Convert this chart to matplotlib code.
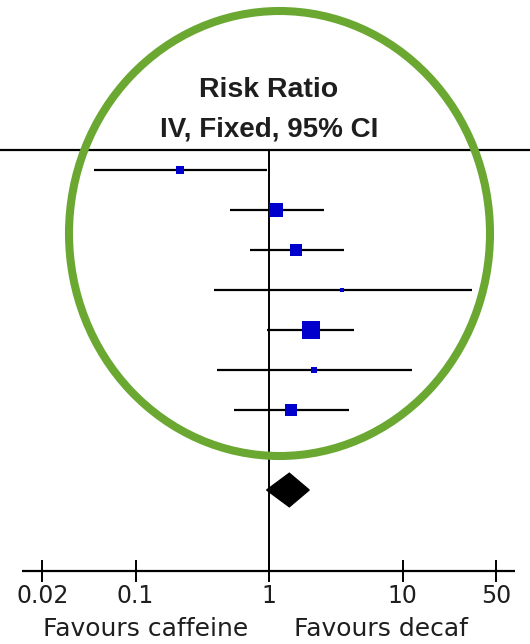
import matplotlib
matplotlib.use("Agg")
import matplotlib.pyplot as plt
import numpy as np
from matplotlib.patches import Ellipse, Polygon

# ---- data ----
study_rr = [0.215, 1.12, 1.58, 3.52, 2.05, 2.19, 1.45]
study_lo = [0.049, 0.51, 0.72, 0.39, 0.97, 0.41, 0.55]
study_hi = [0.96, 2.58, 3.65, 33.0, 4.33, 11.8, 3.99]
study_weight = [6.0, 20.8, 17.7, 2.0, 35.5, 3.1, 14.9]
pooled = [0.96, 1.42, 2.0]   # lo, est, hi
tick_values = [0.02, 0.1, 1, 10, 50]
tick_labels = ["0.02", "0.1", "1", "10", "50"]
title_lines = ["Risk Ratio", "IV, Fixed, 95% CI"]
favours = ["Favours caffeine", "Favours decaf"]

W, H = 530, 644
X1, PPD = 269, 133.5          # pixel of RR=1, pixels per decade
fig = plt.figure(figsize=(W / 100, H / 100), dpi=100)
ax = fig.add_axes([0, 0, 1, 1])
ax.set_xscale("log")
ax.set_xlim(10 ** (-X1 / PPD), 10 ** ((W - X1) / PPD))
# row units: pixel = 170 + 40*row
def row(py):
    return (py - 170) / 40
def xv(px):
    return 10 ** ((px - X1) / PPD)
ax.set_ylim(row(H), row(0))
for s in ax.spines.values():
    s.set_visible(False)
ax.set_xticks([])
ax.set_yticks([])

tfont = "Liberation Sans"
afont = "DejaVu Sans"
blue = "#0000CC"
tcol = "#1e1e1e"

# top separator line
ax.axhline(-0.5, color="black", lw=1.6)
# axis line & line of no effect
axis_row = row(571)
ax.plot([1, 1], [-0.5, axis_row], color="black", lw=1.4, solid_capstyle="butt")
ax.plot([xv(22), xv(515)], [axis_row, axis_row],
        color="black", lw=1.6, solid_capstyle="butt")
for tv, tl in zip(tick_values, tick_labels):
    ax.plot([tv, tv], [axis_row - 0.24, axis_row + 0.24], color="black", lw=1.4)
    ax.text(tv, row(596), tl, ha="center", va="center", fontsize=17,
            family=afont, color=tcol)

# studies
k = 3.0 * 0.72  # px per sqrt(weight) -> points
for i, (rr, lo, hi, w) in enumerate(zip(study_rr, study_lo, study_hi, study_weight)):
    ax.plot([lo, hi], [i, i], color="black", lw=1.6, solid_capstyle="butt", zorder=2)
    ax.plot([rr], [i], marker="s", ms=k * np.sqrt(w), color=blue,
            markeredgewidth=0, zorder=3)

# pooled diamond
dr = 8
ax.add_patch(Polygon([[pooled[0], dr], [pooled[1], dr - 0.42],
                      [pooled[2], dr], [pooled[1], dr + 0.42]],
                     closed=True, facecolor="black", edgecolor="black", lw=1, zorder=3))

# titles
ax.text(1, row(90), title_lines[0], ha="center", va="center", fontsize=20.5,
        fontweight="bold", family=tfont, color=tcol)
ax.text(1, row(129), title_lines[1], ha="center", va="center", fontsize=20,
        fontweight="bold", family=tfont, color=tcol)

# favours labels
ax.text(xv(146), row(629), favours[0], ha="center", va="center", fontsize=18,
        family=afont, color=tcol)
ax.text(xv(381), row(629), favours[1], ha="center", va="center", fontsize=18,
        family=afont, color=tcol)

# green ellipse annotation
ell = Ellipse((279.5 / W, 1 - 233.5 / H), 421 / W, 445 / H, transform=fig.transFigure,
              fill=False, edgecolor="#6BA832", lw=5.8, zorder=5)
fig.patches.append(ell)

fig.savefig("out.png", dpi=100)
